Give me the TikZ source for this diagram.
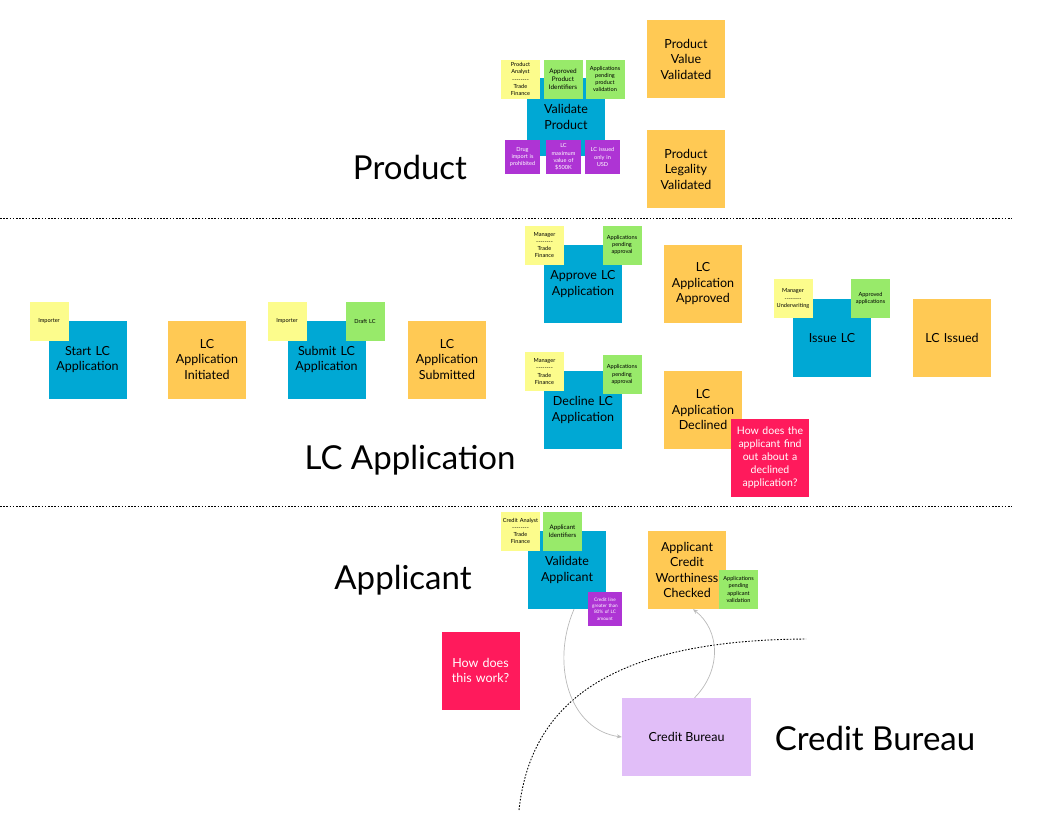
\documentclass[tikz,border=0pt]{standalone}
\usepackage{fontspec}
\setmainfont{Lato}
\usetikzlibrary{arrows.meta}
\definecolor{cblue}{RGB}{0,168,212}
\definecolor{corange}{RGB}{255,201,84}
\definecolor{cyellow}{RGB}{252,252,140}
\definecolor{cgreen}{RGB}{152,234,106}
\definecolor{cpurple}{RGB}{174,52,212}
\definecolor{cpink}{RGB}{255,26,92}
\definecolor{clav}{RGB}{225,190,248}
\newcommand{\dashrule}{{-}{-}{-}{-}{-}{-}{-}{-}}
\tikzset{
  card/.style={rectangle, minimum width=78pt, minimum height=78pt, inner sep=0pt, align=center,
    text width=76pt, font=\fontsize{12.5}{15.5}\selectfont},
  cmd/.style={card, fill=cblue},
  evt/.style={card, fill=corange},
  hot/.style={card, fill=cpink, text=white},
  sticky/.style={rectangle, minimum width=39pt, minimum height=39pt, inner sep=0pt, align=center,
    text width=38pt, font=\fontsize{5.6}{7.2}\selectfont},
  actor/.style={sticky, fill=cyellow},
  info/.style={sticky, fill=cgreen},
  rule/.style={sticky, fill=cpurple, text=white, minimum width=35pt, minimum height=34pt, text width=34pt},
  ext/.style={rectangle, fill=clav, minimum width=129pt, minimum height=78pt, inner sep=0pt,
    font=\fontsize{12.5}{15.5}\selectfont},
  hand/.style={font=\fontsize{33}{38}\selectfont},
  sep/.style={black, line width=0.9pt, dash pattern=on 1.6pt off 1.6pt},
  flow/.style={gray!55, line width=0.7pt, -{Stealth[length=5pt,width=4pt]}},
}
\begin{document}
\begin{tikzpicture}[x=1pt,y=-1pt]
\useasboundingbox (0,0) rectangle (1038,823);
% ---------------- Product
\node[cmd] (vp) at (566,117) {Validate\\Product};
\node[actor] (pa) at (520.5,79) {Product\\Analyst\\\dashrule\\Trade\\Finance};
\node[info, font=\fontsize{6.4}{7.8}\selectfont] (api) at (563,79) {Approved\\Product\\Identifiers};
\node[info] (apv) at (605,79) {Applications\\pending\\product\\validation};
\node[rule] (r1) at (522.5,157) {Drug\\import is\\prohibited};
\node[rule] (r2) at (563.5,157) {LC\\maximum\\value of\\\$500K};
\node[rule] (r3) at (602.5,157) {LC issued\\only in\\USD};
\node[evt] (pvv) at (686,59) {Product\\Value\\Validated};
\node[evt] (plv) at (686,169) {Product\\Legality\\Validated};
\node[hand] (lp) at (410,167) {Product};
\coordinate (s1a) at (0,218);
\coordinate (s1b) at (1012,218);
\draw[sep] (s1a) -- (s1b);
% ---------------- LC Application
\node[cmd] (slc) at (87.5,359.5) {Start LC\\Application};
\node[actor] (imp1) at (49,321) {Importer};
\node[evt] (lai) at (207,359.5) {LC\\Application\\Initiated};
\node[cmd] (sub) at (326.5,359.5) {Submit LC\\Application};
\node[actor] (imp2) at (287,321) {Importer};
\node[info] (dlc) at (365,321) {Draft LC};
\node[evt] (las) at (447,359.5) {LC\\Application\\Submitted};
\node[cmd] (apr) at (583,284) {Approve LC\\Application};
\node[actor] (mgr1) at (544.5,245) {Manager\\\dashrule\\Trade\\Finance};
\node[info] (apa1) at (622,245) {Applications\\pending\\approval};
\node[evt] (laa) at (703,284) {LC\\Application\\Approved};
\node[cmd] (dec) at (583,410) {Decline LC\\Application};
\node[actor] (mgr2) at (544.5,371.5) {Manager\\\dashrule\\Trade\\Finance};
\node[info] (apa2) at (622,374.5) {Applications\\pending\\approval};
\node[evt] (lad) at (703,410) {LC\\Application\\Declined};
\node[hot, font=\fontsize{10.5}{13}\selectfont] (q1) at (770,457.5) {How does the\\applicant find\\out about a\\declined\\application?};
\node[cmd] (iss) at (832,338) {Issue LC};
\node[actor] (mgr3) at (793,298.5) {Manager\\\dashrule\\Underwriting};
\node[info] (apps) at (870.5,298.5) {Approved\\applications};
\node[evt] (lci) at (952,338) {LC Issued};
\node[hand] (llc) at (410,460) {LC Application};
\coordinate (s2a) at (0,506);
\coordinate (s2b) at (1012,506);
\draw[sep] (s2a) -- (s2b);
% ---------------- Applicant
\node[cmd] (va) at (567,570) {Validate\\Applicant};
\node[actor] (ca) at (520.5,531) {Credit Analyst\\\dashrule\\Trade\\Finance};
\node[info, font=\fontsize{6.2}{7.6}\selectfont] (aid) at (562.5,531) {Applicant\\Identifiers};
\node[rule, minimum width=34pt, text width=33pt, font=\fontsize{4.7}{6.2}\selectfont] (cl) at (605,609) {Credit line\\greater than\\80\% of LC\\amount};
\node[evt] (acw) at (687,570) {Applicant\\Credit\\Worthiness\\Checked};
\node[info] (apav) at (738.5,589.5) {Applications\\pending\\applicant\\validation};
\node[hand] (la) at (403,580) {Applicant};
\node[hot] (q2) at (480.5,670.5) {How does\\this work?};
\node[ext] (cb) at (686.5,737) {Credit Bureau};
\node[hand] (lcb) at (875,738) {Credit Bureau};
% dotted boundary
\coordinate (d1) at (519,810);
\coordinate (d2) at (806,639);
\draw[sep] (d1) .. controls (530,710) and (600,640) .. (d2);
% flows
\draw[flow] ([xshift=7pt]va.south) .. controls (550,665) and (570,730) .. (cb.west);
\draw[flow] ([xshift=8pt]cb.north) .. controls (722,670) and (720,630) .. ([xshift=6pt]acw.south);
\end{tikzpicture}
\end{document}
